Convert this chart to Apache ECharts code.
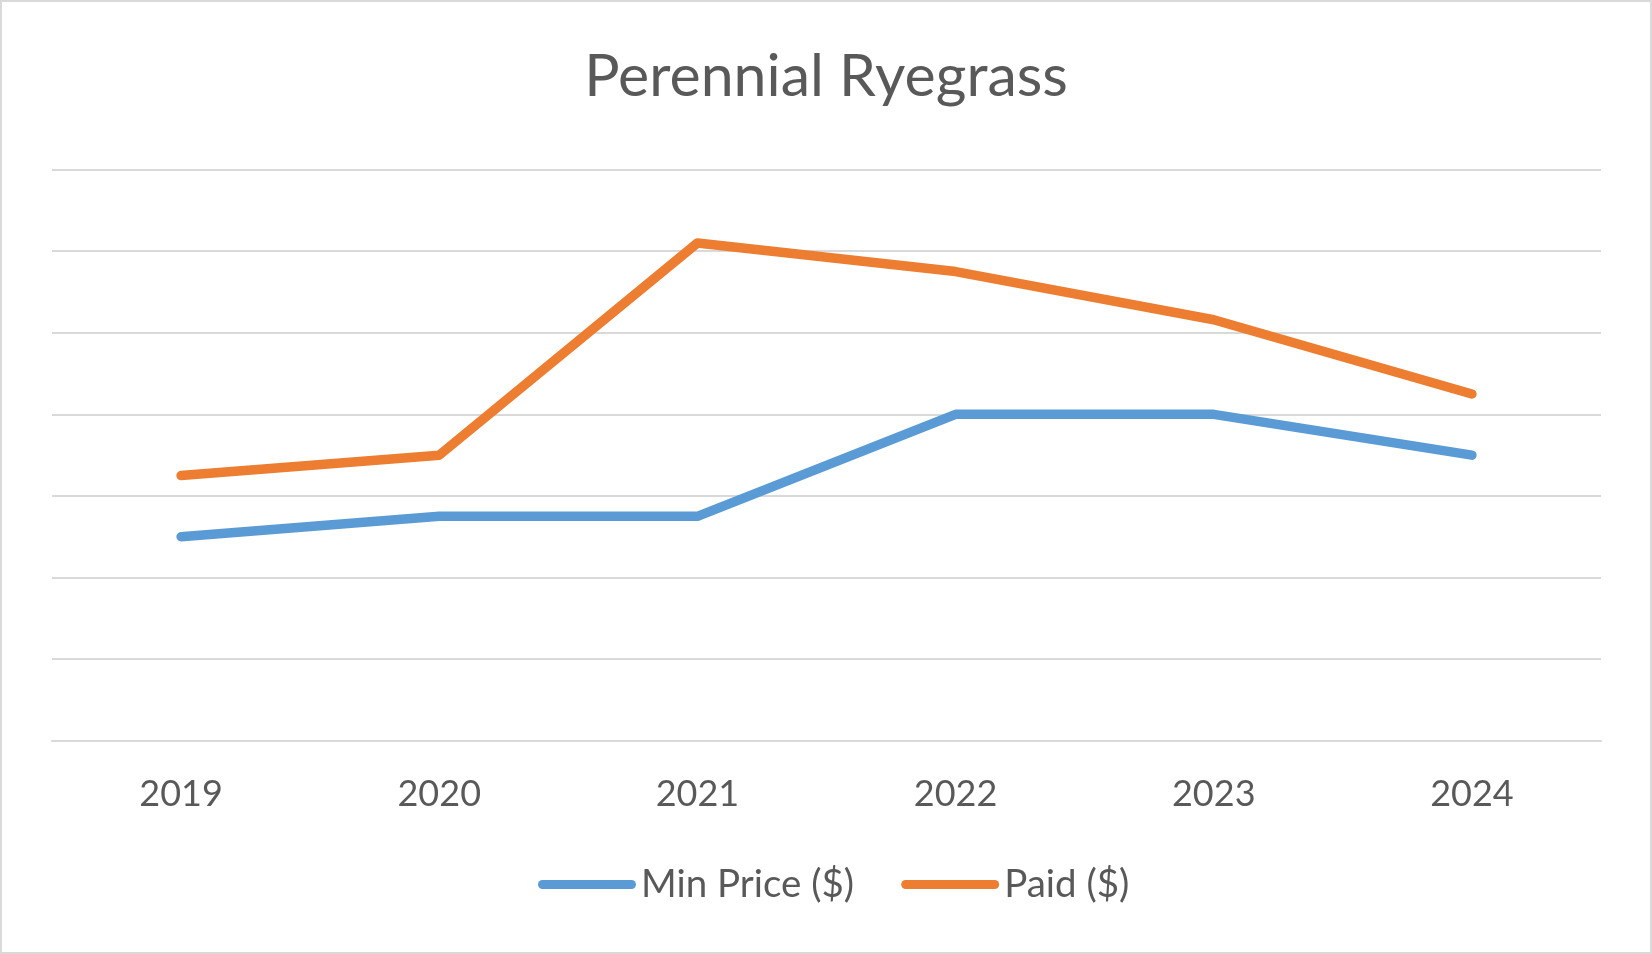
<!DOCTYPE html>
<html>
<head>
<meta charset="utf-8">
<script src="https://cdn.jsdelivr.net/npm/echarts@6/dist/echarts.min.js"></script>
<style>
html,body{margin:0;padding:0;background:#fff;}
#wrap{position:relative;width:1652px;height:954px;}
#chart{position:absolute;left:0;top:0;width:1652px;height:954px;}
#border{position:absolute;left:0;top:0;width:1652px;height:954px;box-sizing:border-box;border:2px solid #d9d9d9;pointer-events:none;}
</style>
</head>
<body>
<div id="wrap"><div id="chart"></div><div id="border"></div></div>
<script>
const titleText = "Perennial Ryegrass";
const categories = ["2019", "2020", "2021", "2022", "2023", "2024"];
const minPrice = [1.25, 1.375, 1.375, 2.0, 2.0, 1.75];
const paid = [1.625, 1.75, 3.05, 2.875, 2.58, 2.125];
const seriesNames = ["Min Price ($)", "Paid ($)"];

const chart = echarts.init(document.getElementById('chart'), null, {renderer: 'canvas'});
const font = 'Lato';
const pill = 'path://M4.5,0 H93.5 A4.5,4.5 0 0 1 93.5,9 H4.5 A4.5,4.5 0 0 1 4.5,0 Z';
chart.setOption({
  animation: false,
  backgroundColor: '#ffffff',
  title: {
    text: titleText,
    left: 'center',
    top: 42,
    textStyle: {fontFamily: font, fontSize: 59, fontWeight: 'normal', color: '#595959'}
  },
  legend: {
    left: 533,
    top: 860,
    padding: 5,
    itemWidth: 98,
    itemHeight: 9,
    itemGap: 47,
    icon: pill,
    textStyle: {fontFamily: font, fontSize: 38.5, color: '#595959'},
    data: seriesNames
  },
  grid: {left: 52, right: 51, top: 169.6, bottom: 213.3, containLabel: false},
  xAxis: {
    type: 'category',
    data: categories,
    boundaryGap: true,
    axisLine: {show: true, lineStyle: {color: '#d9d9d9', width: 2.2}},
    axisTick: {show: false},
    axisLabel: {fontFamily: font, fontSize: 36, color: '#595959', margin: 36}
  },
  yAxis: {
    type: 'value',
    min: 0,
    max: 3.5,
    interval: 0.5,
    axisLabel: {show: false},
    axisLine: {show: false},
    axisTick: {show: false},
    splitLine: {lineStyle: {color: '#d9d9d9', width: 2.2}}
  },
  series: [
    {name: seriesNames[0], type: 'line', data: minPrice, symbol: 'none', color: '#5b9bd5',
     lineStyle: {width: 9.5, color: '#5b9bd5', cap: 'round', join: 'round'}},
    {name: seriesNames[1], type: 'line', data: paid, symbol: 'none', color: '#ed7d31',
     lineStyle: {width: 9.5, color: '#ed7d31', cap: 'round', join: 'round'}}
  ]
});
</script>
</body>
</html>
